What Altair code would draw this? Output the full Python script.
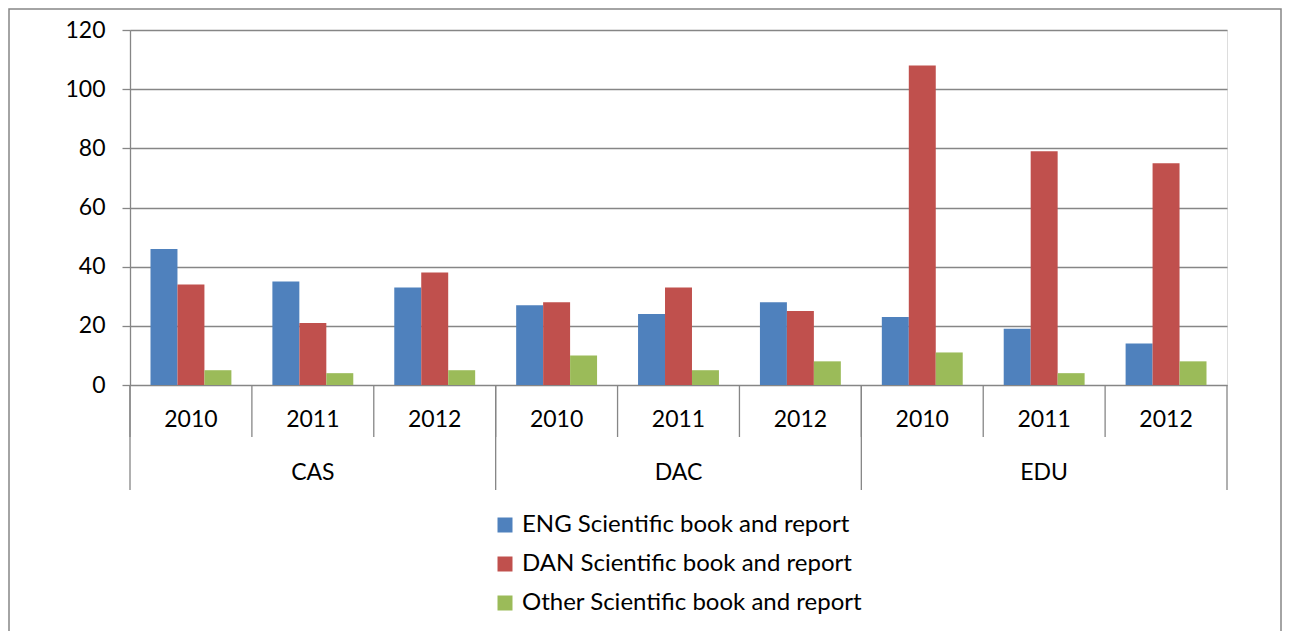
import altair as alt
import pandas as pd

groups = ["CAS", "DAC", "EDU"]
years = ["2010", "2011", "2012"]
series = ["ENG Scientific book and report",
          "DAN Scientific book and report",
          "Other Scientific book and report"]
eng = [46, 35, 33, 27, 24, 28, 23, 19, 14]
dan = [34, 21, 38, 28, 33, 25, 108, 79, 75]
other = [5, 4, 5, 10, 5, 8, 11, 4, 8]
colors = ["#4F81BD", "#C0504D", "#9BBB59"]
y_ticks = [0, 20, 40, 60, 80, 100, 120]

FONT = "Lato"
FS = 23
GRAY = "#868686"
W, H = 1097, 355

cats = [f"{g} {y}" for g in groups for y in years]
rows = []
for i, c in enumerate(cats):
    for s, vals in zip(series, [eng, dan, other]):
        rows.append({"cat": c, "series": s, "value": vals[i]})
df = pd.DataFrame(rows)

catdf = pd.DataFrame({"cat": cats,
                      "year": [y for g in groups for y in years]})
grp_mid = pd.DataFrame({"cat": [f"{g} {years[1]}" for g in groups], "group": groups})
grp_first = pd.DataFrame({"cat": [f"{g} {years[0]}" for g in groups]})
last_cat = pd.DataFrame({"cat": [cats[-1]]})

xscale = alt.Scale(domain=cats, paddingInner=0, paddingOuter=0)

bars = alt.Chart(df).mark_bar().encode(
    x=alt.X("cat:N", scale=xscale, axis=None, sort=cats),
    xOffset=alt.XOffset("series:N", sort=series,
                        scale=alt.Scale(domain=series, paddingInner=0, paddingOuter=0.76)),
    y=alt.Y("value:Q", scale=alt.Scale(domain=[0, 120]),
            axis=alt.Axis(values=y_ticks, title=None, grid=True, gridColor=GRAY,
                          gridWidth=1.3, domainColor=GRAY, domainWidth=1.3,
                          tickColor=GRAY, tickSize=8, tickWidth=1.3,
                          labelFont=FONT, labelFontSize=FS, labelColor="black",
                          labelPadding=17)),
    color=alt.Color("series:N", sort=series,
                    scale=alt.Scale(domain=series, range=colors),
                    legend=alt.Legend(title=None, orient="none", legendX=363, legendY=483,
                                      symbolType="square", symbolSize=225,
                                      symbolStrokeWidth=0, labelFont=FONT,
                                      labelFontSize=24, labelColor="black",
                                      labelLimit=0, labelOffset=5, rowPadding=15,
                                      padding=0)),
)

year_sep = alt.Chart(catdf).mark_rule(color=GRAY, strokeWidth=1.3).encode(
    x=alt.X("cat:N", scale=xscale, axis=None, bandPosition=0),
    y=alt.value(H), y2=alt.value(H + 52))

grp_sep = alt.Chart(grp_first).mark_rule(color=GRAY, strokeWidth=1.3).encode(
    x=alt.X("cat:N", scale=xscale, axis=None, bandPosition=0),
    y=alt.value(H), y2=alt.value(H + 105))

end_sep = alt.Chart(last_cat).mark_rule(color=GRAY, strokeWidth=1.3).encode(
    x=alt.X("cat:N", scale=xscale, axis=None, bandPosition=1),
    y=alt.value(H), y2=alt.value(H + 105))

year_lbl = alt.Chart(catdf).mark_text(font=FONT, fontSize=FS, color="black",
                                      baseline="middle").encode(
    x=alt.X("cat:N", scale=xscale, axis=None, bandPosition=0.5),
    y=alt.value(H + 35), text="year:N")

grp_lbl = alt.Chart(grp_mid).mark_text(font=FONT, fontSize=FS, color="black",
                                       baseline="middle").encode(
    x=alt.X("cat:N", scale=xscale, axis=None, bandPosition=0.5),
    y=alt.value(H + 88), text="group:N")

border = alt.Chart(pd.DataFrame({"a": [0]})).mark_rect(
    fill="transparent", stroke=GRAY, strokeWidth=1.5).encode(
    x=alt.value(-121), x2=alt.value(1151), y=alt.value(-21), y2=alt.value(H + 400))

chart = alt.layer(border, bars, year_sep, grp_sep, end_sep, year_lbl, grp_lbl).properties(
    width=W, height=H,
    autosize=alt.AutoSizeParams(type="none"),
    padding={"left": 122, "top": 22, "right": 56, "bottom": 246},
).configure_view(stroke=None).configure(background="white")

chart.save("out.html", embed_options={"renderer": "svg", "actions": False})
